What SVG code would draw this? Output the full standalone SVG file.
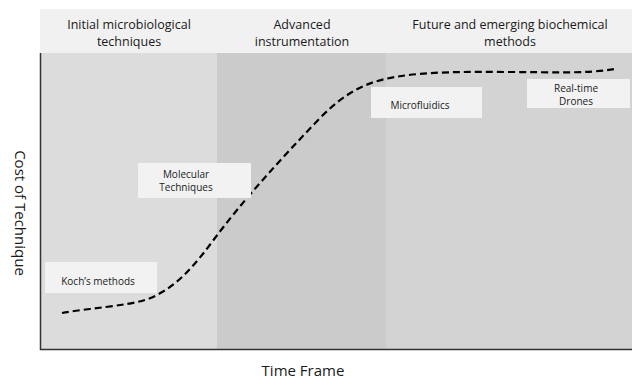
<svg xmlns="http://www.w3.org/2000/svg" width="632" height="379" viewBox="0 0 632 379">
<style>
.hdr{fill:#f1f1f1}
.lbl{fill:#f2f2f2}
text{font-family:"Open Sans","Liberation Sans",sans-serif;fill:#1a1a1a;text-anchor:middle}
.h{font-size:12.5px}
.s{font-size:10px}
.ax{font-size:15px}
</style>
<rect width="632" height="379" fill="#ffffff"/>
<g id="columns">
<rect x="40" y="53" width="177" height="296" fill="#dcdcdc"/>
<rect x="217" y="53" width="169" height="296" fill="#cbcbcb"/>
<rect x="386" y="53" width="246" height="296" fill="#d3d3d3"/>
</g>
<g id="header1"><rect class="hdr" x="40" y="9" width="177" height="44"/>
<text class="h" x="129" y="29">Initial microbiological</text><text class="h" x="129" y="46">techniques</text></g>
<g id="header2"><rect class="hdr" x="217" y="9" width="169" height="44" fill="#efefef"/>
<text class="h" x="302" y="29">Advanced</text><text class="h" x="302" y="46">instrumentation</text></g>
<g id="header3"><rect class="hdr" x="386" y="9" width="246" height="44"/>
<text class="h" x="510" y="29">Future and emerging biochemical</text><text class="h" x="510" y="46">methods</text></g>
<g id="axes" stroke="#333" stroke-width="1.5" fill="none">
<path d="M40.5 53 V349.5 H632"/>
</g>
<g id="connectors">
<path d="M62 313 C90 308 125 306 145 300 C175 290 195 265 215 238 C245 198 280 160 320 118 C345 93 365 82 395 77 C430 71 470 72 510 72 C550 72 585 74 615 69" fill="none" stroke="#000" stroke-width="2.2" stroke-dasharray="7,4"/>
</g>
<g id="koch"><rect class="lbl" x="45" y="262" width="112" height="31"/><text class="s" x="98" y="285">Koch’s methods</text></g>
<g id="molecular"><rect class="lbl" x="138" y="163" width="113" height="35"/><text class="s" x="186" y="178">Molecular</text><text class="s" x="186" y="191">Techniques</text></g>
<g id="microfluidics"><rect class="lbl" x="371" y="87" width="111" height="31"/><text class="s" x="420" y="109">Microfluidics</text></g>
<g id="drones"><rect class="lbl" x="527" y="79" width="103" height="29"/><text class="s" x="576" y="92">Real-time</text><text class="s" x="576" y="105">Drones</text></g>
<text class="ax" transform="translate(15,213) rotate(90)">Cost of Technique</text>
<text class="ax" x="303" y="376">Time Frame</text>
</svg>
